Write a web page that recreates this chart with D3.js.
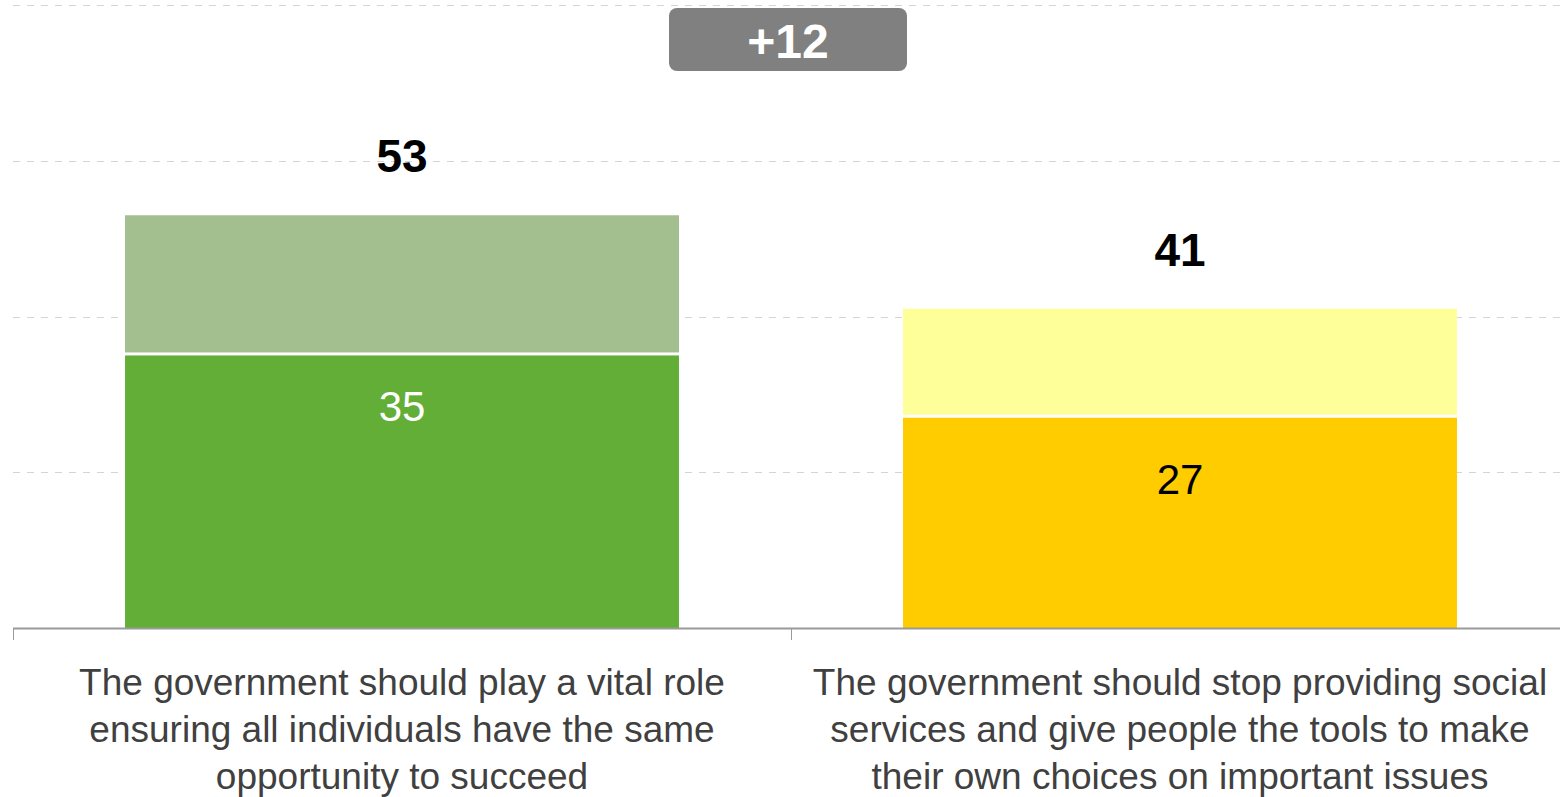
<!DOCTYPE html>
<html>
<head>
<meta charset="utf-8">
<script src="https://cdn.jsdelivr.net/npm/d3@7/dist/d3.min.js"></script>
<style>
  html, body { margin: 0; padding: 0; background: #fff; }
  svg { display: block; font-family: "Liberation Sans", Arial, sans-serif; }
</style>
</head>
<body>
<svg id="chart" width="1560" height="797"></svg>
<script>
// ---- data ----
const categories = [
  "The government should play a vital role ensuring all individuals have the same opportunity to succeed",
  "The government should stop providing social services and give people the tools to make their own choices on important issues"
];
const categoryLines = [
  ["The government should play a vital role", "ensuring all individuals have the same", "opportunity to succeed"],
  ["The government should stop providing social", "services and give people the tools to make", "their own choices on important issues"]
];
const strongValues = [35, 27];     // darker, bottom segment
const otherValues  = [18, 14];     // lighter, top segment
const totals       = [53, 41];
const diffLabel    = "+12";
const gridTicks    = [20, 40, 60, 80];

// ---- styles ----
const darkColors  = ["#62AE37", "#FFCC00"];
const lightColors = ["#A3BE8F", "#FFFF99"];
const innerTextColors = ["#ffffff", "#000000"];
const innerLabelOffset = [66, 76];

// ---- layout ----
const svg = d3.select("#chart");
const x0 = 13, x1 = 1569, yBase = 628, yTop = 5;

const x = d3.scaleBand()
  .domain(d3.range(categories.length))
  .range([x0, x1])
  .paddingInner(0.288)
  .paddingOuter(0.144);

const xb = d3.scaleBand().domain(d3.range(categories.length)).range([x0, x1]).padding(0);

const y = d3.scaleLinear().domain([0, 80]).range([yBase, yTop]);

// gridlines
svg.append("g").selectAll("line").data(gridTicks).join("line")
  .attr("x1", x0).attr("x2", 1560)
  .attr("y1", d => Math.round(y(d)) + 0.5).attr("y2", d => Math.round(y(d)) + 0.5)
  .attr("stroke", "#d4d4d4").attr("stroke-width", 1.2)
  .attr("stroke-dasharray", "7,7");

// bars: bottom (strong) segments
const bars = svg.append("g");
bars.selectAll("rect.dark").data(strongValues).join("rect")
  .attr("class", "dark")
  .attr("x", (d, i) => x(i))
  .attr("width", x.bandwidth())
  .attr("y", d => y(d))
  .attr("height", d => yBase - y(d))
  .attr("fill", (d, i) => darkColors[i]);

// top (lighter) segments
bars.selectAll("rect.light").data(otherValues).join("rect")
  .attr("class", "light")
  .attr("x", (d, i) => x(i))
  .attr("width", x.bandwidth())
  .attr("y", (d, i) => y(strongValues[i] + d))
  .attr("height", (d, i) => y(strongValues[i]) - y(strongValues[i] + d) - 3)
  .attr("fill", (d, i) => lightColors[i]);

// axis
const axisG = svg.append("g");
axisG.append("line")
  .attr("x1", x0).attr("x2", x1)
  .attr("y1", yBase + 0.5).attr("y2", yBase + 0.5)
  .attr("stroke", "#9a9a9a").attr("stroke-width", 2);
const boundaries = d3.range(categories.length + 1).map(i => i < categories.length ? xb(i) : x1);
axisG.selectAll("line.tick").data(boundaries).join("line")
  .attr("class", "tick")
  .attr("x1", d => d + 0.5).attr("x2", d => d + 0.5)
  .attr("y1", yBase).attr("y2", yBase + 12)
  .attr("stroke", "#9a9a9a").attr("stroke-width", 1);

// category labels
const catG = svg.append("g");
categoryLines.forEach((lines, i) => {
  const cx = x(i) + x.bandwidth() / 2;
  const t = catG.append("text")
    .attr("x", cx)
    .attr("y", 695)
    .attr("text-anchor", "middle")
    .attr("font-size", 37)
    .attr("fill", "#404040");
  lines.forEach((ln, j) => {
    t.append("tspan").attr("x", cx).attr("dy", j === 0 ? 0 : 47).text(ln);
  });
});

// total labels
svg.append("g").selectAll("text").data(totals).join("text")
  .attr("x", (d, i) => x(i) + x.bandwidth() / 2)
  .attr("y", d => y(d) - 43)
  .attr("text-anchor", "middle")
  .attr("font-size", 46).attr("font-weight", "bold")
  .attr("fill", "#000")
  .text(d => d);

// inner labels
svg.append("g").selectAll("text").data(strongValues).join("text")
  .attr("x", (d, i) => x(i) + x.bandwidth() / 2)
  .attr("y", (d, i) => y(d) + innerLabelOffset[i])
  .attr("text-anchor", "middle")
  .attr("font-size", 42)
  .attr("fill", (d, i) => innerTextColors[i])
  .text(d => d);

// difference badge
const bx = xb(1);
const badge = svg.append("g");
badge.append("rect")
  .attr("x", bx - 122).attr("y", 8).attr("width", 238).attr("height", 63)
  .attr("rx", 8).attr("fill", "#808080");
badge.append("text")
  .attr("x", bx - 3).attr("y", 58)
  .attr("text-anchor", "middle")
  .attr("font-size", 48).attr("font-weight", "bold")
  .attr("fill", "#fff")
  .text(diffLabel);
</script>
</body>
</html>
